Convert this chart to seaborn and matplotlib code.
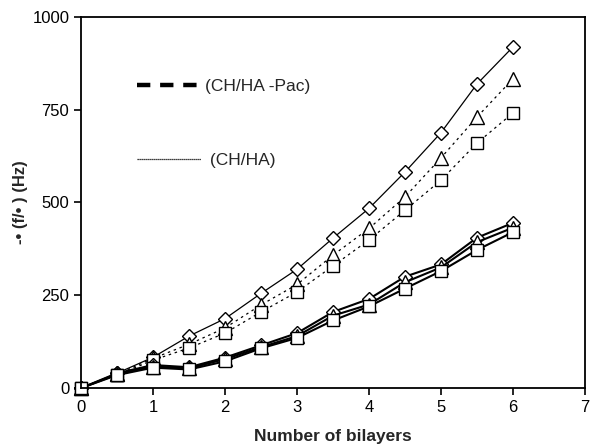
import pandas as pd
import seaborn as sns
import matplotlib.pyplot as plt
from matplotlib.lines import Line2D

# number of bilayers
bilayers = [0, 0.5, 1, 1.5, 2, 2.5, 3, 3.5, 4, 4.5, 5, 5.5, 6]

# CH/HA films (upper group)
chha_diamond = [0, 40, 83, 140, 187, 255, 320, 404, 484, 582, 688, 819, 919]
chha_triangle = [0, 37, 80, 118, 162, 224, 279, 358, 430, 515, 620, 730, 833]
chha_square = [0, 35, 75, 108, 148, 205, 259, 329, 399, 479, 560, 660, 741]

# CH/HA-Pac films (lower group)
pac_diamond = [0, 40, 62, 56, 82, 115, 148, 205, 240, 300, 333, 405, 445]
pac_triangle = [0, 37, 58, 53, 78, 110, 140, 195, 225, 285, 325, 393, 432]
pac_square = [0, 35, 55, 50, 72, 107, 135, 182, 220, 268, 315, 372, 420]

legend_labels = ['(CH/HA -Pac)', ' (CH/HA)']
xticks = [0, 1, 2, 3, 4, 5, 6, 7]
yticks = [0, 250, 500, 750, 1000]

sns.set_style("white")
plt.rcParams['font.family'] = ['Liberation Sans', 'DejaVu Sans']

fig, ax = plt.subplots(figsize=(5.92, 4.45), dpi=100)
fig.subplots_adjust(left=0.137, right=0.988, top=0.962, bottom=0.128)

series = [
    (chha_diamond, 'D', (0, ()), 0.9, 7),
    (chha_triangle, '^', (0, (2, 3)), 0.9, 9.5),
    (chha_square, 's', (0, (2, 3)), 0.9, 8.5),
    (pac_diamond, 'D', (0, ()), 1.5, 7),
    (pac_triangle, '^', (0, ()), 1.5, 9.5),
    (pac_square, 's', (0, ()), 1.5, 8.5),
]
for vals, mk, ls, lw, ms in series:
    df = pd.DataFrame({'x': bilayers, 'y': vals})
    sns.lineplot(data=df, x='x', y='y', ax=ax, color='black', linestyle=ls,
                 linewidth=lw, marker=mk, markersize=ms, markerfacecolor='white',
                 markeredgecolor='black', markeredgewidth=1.0, clip_on=False)

handles = [Line2D([], [], color='black', linestyle=(0, (3, 2.2)), linewidth=3.2),
           Line2D([], [], color='black', linestyle=(0, (1, 0.6)), linewidth=0.9)]
ax.legend(handles, legend_labels, loc='upper left', bbox_to_anchor=(0.08, 0.875),
          frameon=False, handlelength=3.7, handletextpad=0.2, labelspacing=3.4,
          fontsize=12.5)

ax.set_xlim(0, 7)
ax.set_ylim(0, 1000)
ax.set_xticks(xticks)
ax.set_yticks(yticks)
ax.tick_params(axis='both', direction='out', length=5, width=1.2, labelsize=12,
               bottom=True, left=True, colors='black')
for sp in ax.spines.values():
    sp.set_color('black')
    sp.set_linewidth(1.3)

ax.set_xlabel('Number of bilayers', fontsize=12.5, fontweight='bold', labelpad=10)
ax.set_ylabel('-• (f/• ) (Hz)', fontsize=12, fontweight='bold', labelpad=3)

fig.savefig('out.png', dpi=100)
